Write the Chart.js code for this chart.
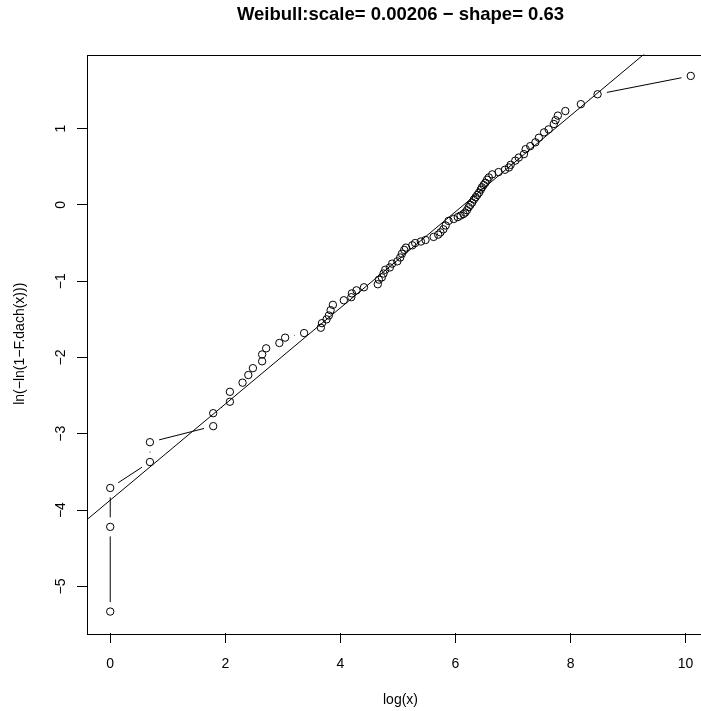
<!DOCTYPE html>
<html>
<head>
<meta charset="utf-8">
<script src="https://cdn.jsdelivr.net/npm/chart.js@4.4.1/dist/chart.umd.min.js"></script>
<style>
  html, body { margin: 0; padding: 0; background: #fff; overflow: hidden; }
  #wrap { width: 701px; height: 711px; overflow: hidden; }
</style>
</head>
<body>
<div id="wrap"><canvas id="weibullChart" width="801" height="711" style="width:801px;height:711px"></canvas></div>
<script>
// log(x) of the sorted observations
const logX = [
  0, 0, 0, 0.69, 0.69, 1.79, 1.79, 2.08, 2.08, 2.30,
  2.40, 2.48, 2.64, 2.64, 2.71, 2.94, 3.04, 3.37, 3.66, 3.68,
  3.76, 3.80, 3.83, 3.87, 4.06, 4.19, 4.20, 4.28, 4.41, 4.65,
  4.67, 4.72, 4.75, 4.78, 4.86, 4.90, 4.99, 5.04, 5.07, 5.11,
  5.14, 5.25, 5.30, 5.40, 5.48, 5.62, 5.70, 5.74, 5.79, 5.83,
  5.88, 5.97, 6.04, 6.09, 6.14, 6.17, 6.20, 6.23, 6.26, 6.29,
  6.32, 6.35, 6.38, 6.41, 6.44, 6.46, 6.49, 6.52, 6.55, 6.58,
  6.64, 6.75, 6.86, 6.93, 6.96, 7.04, 7.10, 7.19, 7.22, 7.30,
  7.39, 7.45, 7.54, 7.62, 7.71, 7.74, 7.78, 7.91, 8.18, 8.47,
  10.09
];
// ln(-ln(1 - F.dach(x)))
const lnLn = [
  -5.33, -4.22, -3.71, -3.37, -3.11, -2.90, -2.73, -2.58, -2.45, -2.33,
  -2.23, -2.14, -2.05, -1.96, -1.88, -1.81, -1.74, -1.68, -1.61, -1.55,
  -1.50, -1.45, -1.38, -1.31, -1.25, -1.21, -1.16, -1.12, -1.08, -1.04,
  -0.98, -0.95, -0.90, -0.85, -0.82, -0.77, -0.74, -0.69, -0.64, -0.59,
  -0.56, -0.53, -0.50, -0.48, -0.46, -0.42, -0.39, -0.36, -0.32, -0.27,
  -0.21, -0.185, -0.16, -0.14, -0.12, -0.10, -0.07, -0.03, 0.00, 0.03,
  0.07, 0.10, 0.13, 0.16, 0.20, 0.23, 0.26, 0.29, 0.33, 0.36,
  0.40, 0.43, 0.46, 0.49, 0.525, 0.58, 0.62, 0.665, 0.73, 0.77,
  0.82, 0.88, 0.95, 0.99, 1.06, 1.11, 1.17, 1.23, 1.32, 1.45,
  1.69
];
const xTicks = [0, 2, 4, 6, 8, 10];
const yTicks = [-5, -4, -3, -2, -1, 0, 1];

// fitted line (abline)
const fitSlope = 0.63;
const fitIntercept = -3.87;

const GAP = 9.5; // type="b" gap around points, px
const FONT = "'Liberation Sans', Arial, Helvetica, sans-serif";

// R style axis limits: data range + 4%
function rRange(arr) {
  const lo = Math.min(...arr), hi = Math.max(...arr);
  const pad = (hi - lo) * 0.04;
  return [lo - pad, hi + pad];
}
const [xMin, xMax] = rRange(logX);
const [yMin, yMax] = rRange(lnLn);

const points = logX.map((x, i) => ({ x: x, y: lnLn[i] }));
const fitLine = [xMin, xMax].map(x => ({ x: x, y: fitSlope * x + fitIntercept }));

const minus = v => String(v).replace("-", "\u2212");

// segments between consecutive points, leaving a gap round each point
const gapLines = {
  id: "gapLines",
  afterDatasetsDraw(chart) {
    const meta = chart.getDatasetMeta(0);
    const ctx = chart.ctx;
    const a = chart.chartArea;
    ctx.save();
    ctx.beginPath();
    ctx.rect(a.left, a.top, a.right - a.left, a.bottom - a.top);
    ctx.clip();
    ctx.strokeStyle = "#000";
    ctx.lineWidth = 1;
    for (let i = 1; i < meta.data.length; i++) {
      const p = meta.data[i - 1], q = meta.data[i];
      const dx = q.x - p.x, dy = q.y - p.y;
      const d = Math.hypot(dx, dy);
      if (d <= 2 * GAP) continue;
      const ux = dx / d, uy = dy / d;
      ctx.beginPath();
      ctx.moveTo(p.x + ux * GAP, p.y + uy * GAP);
      ctx.lineTo(q.x - ux * GAP, q.y - uy * GAP);
      ctx.stroke();
    }
    ctx.restore();
  }
};

// box() round the plot region
const plotBox = {
  id: "plotBox",
  afterDraw(chart) {
    const a = chart.chartArea;
    const ctx = chart.ctx;
    ctx.save();
    ctx.strokeStyle = "#000";
    ctx.lineWidth = 1;
    ctx.strokeRect(Math.round(a.left) + 0.5, Math.round(a.top) + 0.5,
      Math.round(a.right - a.left), Math.round(a.bottom - a.top));
    ctx.restore();
  }
};

const ctx = document.getElementById("weibullChart").getContext("2d");
const chart = new Chart(ctx, {
  type: "scatter",
  data: {
    datasets: [
      {
        label: "data",
        data: points,
        showLine: false,
        pointStyle: "circle",
        pointRadius: 3.7,
        pointHoverRadius: 3.7,
        pointBorderWidth: 1,
        pointBorderColor: "#000",
        pointBackgroundColor: "rgba(0,0,0,0)"
      },
      {
        label: "fit",
        data: fitLine,
        showLine: true,
        pointRadius: 0,
        borderColor: "#000",
        borderWidth: 1,
        fill: false
      }
    ]
  },
  options: {
    responsive: false,
    animation: false,
    devicePixelRatio: 1,
    layout: { padding: 0 },
    plugins: {
      legend: { display: false },
      tooltip: { enabled: false },
      title: {
        display: true,
        text: "Weibull:scale= 0.00206 \u2212 shape= 0.63",
        color: "#000",
        font: { family: FONT, size: 18.5, weight: "bold" },
        padding: { top: 4, bottom: 28.3 }
      }
    },
    scales: {
      x: {
        type: "linear",
        min: xMin,
        max: xMax,
        afterBuildTicks: s => { s.ticks = xTicks.map(v => ({ value: v })); },
        afterFit: s => { s.height = 78; },
        grid: { drawOnChartArea: false, drawTicks: true, tickLength: 10, tickColor: "#000" },
        border: { display: false },
        ticks: {
          color: "#000",
          font: { family: FONT, size: 14 },
          padding: 13,
          maxRotation: 0,
          callback: v => minus(v)
        },
        title: {
          display: true,
          text: "log(x)",
          color: "#000",
          font: { family: FONT, size: 14 },
          padding: { top: 2, bottom: 2 }
        }
      },
      y: {
        type: "linear",
        min: yMin,
        max: yMax,
        afterBuildTicks: s => { s.ticks = yTicks.map(v => ({ value: v })); },
        afterFit: s => { s.width = 87; },
        grid: { drawOnChartArea: false, drawTicks: true, tickLength: 10, tickColor: "#000" },
        border: { display: false },
        ticks: {
          color: "#000",
          font: { family: FONT, size: 14 },
          padding: 8,
          minRotation: 90,
          maxRotation: 90,
          crossAlign: "center",
          callback: v => minus(v)
        },
        title: {
          display: true,
          text: "ln(\u2212ln(1\u2212F.dach(x)))",
          color: "#000",
          font: { family: FONT, size: 14 },
          padding: { top: 12, bottom: 12 }
        }
      },
      // empty right margin (outer margin of the R plot), keeps the plot centred under the title
      yRight: {
        type: "linear",
        position: "right",
        min: yMin,
        max: yMax,
        afterFit: s => { s.width = 87; },
        grid: { display: false },
        border: { display: false },
        ticks: { display: false }
      }
    }
  },
  plugins: [gapLines, plotBox]
});
</script>
</body>
</html>
